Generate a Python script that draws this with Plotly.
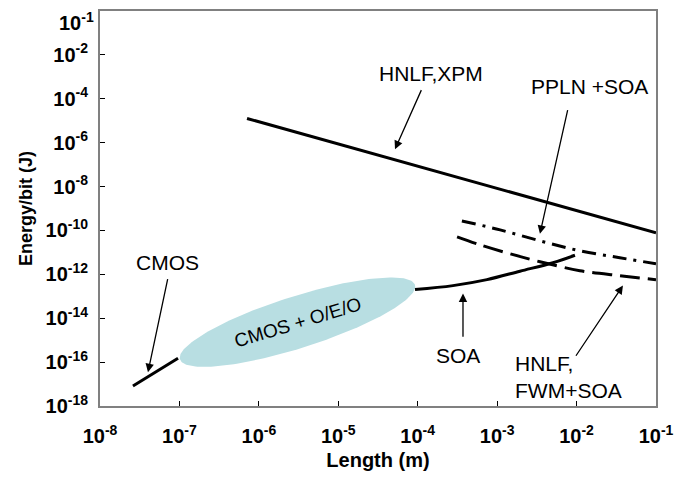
import numpy as np
import plotly.graph_objects as go

# ---------------- data ----------------
x_tickvals = [1e-8, 1e-7, 1e-6, 1e-5, 1e-4, 1e-3, 1e-2, 1e-1]
x_ticktext = ["10<sup>-8</sup>", "10<sup>-7</sup>", "10<sup>-6</sup>", "10<sup>-5</sup>",
              "10<sup>-4</sup>", "10<sup>-3</sup>", "10<sup>-2</sup>", "10<sup>-1</sup>"]
y_tickvals = [1e-18, 1e-16, 1e-14, 1e-12, 1e-10, 1e-8, 1e-6, 1e-4, 1e-2, 1e0]
y_ticktext = ["10<sup>-18</sup>", "10<sup>-16</sup>", "10<sup>-14</sup>", "10<sup>-12</sup>",
              "10<sup>-10</sup>", "10<sup>-8</sup>", "10<sup>-6</sup>", "10<sup>-4</sup>",
              "10<sup>-2</sup>", ""]
y_top_label = "10<sup>-1</sup>"

cmos_x = [2.6e-8, 9.6e-8]
cmos_y = [8.1e-18, 1.5e-16]

xpm_x = [7.1e-7, 1e-1]
xpm_y = [1.27e-5, 7.8e-11]

soa_x = [9.25e-5, 2.78e-4, 7.45e-4, 1.94e-3, 5.05e-3, 9.55e-3]
soa_y = [2.02e-13, 3.06e-13, 5.73e-13, 1.39e-12, 3.38e-12, 7.4e-12]

ppln_x = [3.6e-4, 1.09e-3, 3.46e-3, 1.1e-2, 3.5e-2, 1e-1]
ppln_y = [2.71e-10, 1.06e-10, 3.36e-11, 1.18e-11, 5.7e-12, 3.05e-12]

fwm_x = [3.13e-4, 6.08e-4, 1.45e-3, 3.46e-3, 1.1e-2, 3.5e-2, 1e-1]
fwm_y = [5.1e-11, 2.21e-11, 8.65e-12, 3.75e-12, 1.47e-12, 8.7e-13, 5.73e-13]

# ellipse "CMOS + O/E/O" in decades (log10 space)
oeo_center = (-5.514, -14.178)
oeo_major = (1.479, 1.700)
oeo_minor = (0.0995, -1.124)

FONT = "Liberation Sans, Arial, Helvetica, sans-serif"

fig = go.Figure()

t = np.linspace(0, 2 * np.pi, 200)
ex = oeo_center[0] + oeo_major[0] * np.cos(t) + oeo_minor[0] * np.sin(t)
ey = oeo_center[1] + oeo_major[1] * np.cos(t) + oeo_minor[1] * np.sin(t)
fig.add_trace(go.Scatter(x=10 ** ex, y=10 ** ey, mode="lines", fill="toself",
                         fillcolor="#b8dee2", line=dict(width=0, color="#b8dee2"),
                         hoverinfo="skip", showlegend=False))

line_style = dict(color="black", width=3)
fig.add_trace(go.Scatter(x=cmos_x, y=cmos_y, mode="lines", line=line_style, showlegend=False))
fig.add_trace(go.Scatter(x=xpm_x, y=xpm_y, mode="lines", line=line_style, showlegend=False))
fig.add_trace(go.Scatter(x=soa_x, y=soa_y, mode="lines", line=dict(color="black", width=3, shape="spline"),
                         showlegend=False))
fig.add_trace(go.Scatter(x=ppln_x, y=ppln_y, mode="lines",
                         line=dict(color="black", width=3, dash="14px,7px,3px,7px", shape="spline"),
                         showlegend=False))
fig.add_trace(go.Scatter(x=fwm_x, y=fwm_y, mode="lines",
                         line=dict(color="black", width=3, dash="20px,8px", shape="spline"),
                         showlegend=False))

# labels (positions in log10 units)
labels = [
    ("CMOS", -7.144, -11.471, "center"),
    ("HNLF,XPM", -3.833, -2.857, "center"),
    ("PPLN +SOA", -1.831, -3.446, "center"),
    ("SOA", -3.493, -15.688, "center"),
    ("HNLF,<br>FWM+SOA", -2.800, -16.685, "left"),
]
for txt, lx, ly, anc in labels:
    fig.add_annotation(x=lx, y=ly, text=txt, showarrow=False, xanchor=anc, align="left",
                       font=dict(family=FONT, size=21, color="black"))

arrows = [
    (-7.144, -12.151, -7.396, -16.458),
    (-3.946, -3.537, -4.286, -6.302),
    (-2.108, -4.444, -2.461, -10.156),
    (-3.430, -14.917, -3.430, -12.877),
    (-2.020, -15.778, -1.416, -12.514),
]
for tx, ty, hx, hy in arrows:
    fig.add_annotation(x=hx, y=hy, ax=tx, ay=ty, axref="x", ayref="y", xref="x", yref="y",
                       text="", showarrow=True, arrowhead=2, arrowsize=1.3, arrowwidth=1.3,
                       arrowcolor="black", standoff=0, startstandoff=0)

fig.add_annotation(x=oeo_center[0], y=oeo_center[1], text="CMOS + O/E/O", showarrow=False,
                   textangle=-17, font=dict(family=FONT, size=19, color="black"))

TICKFONT = dict(family=FONT, size=20, color="black", weight="bold")

# top y label placed inside the figure
fig.add_annotation(xref="paper", yref="paper", x=0, y=1, xanchor="right", yanchor="top",
                   xshift=-4, yshift=4, text=y_top_label, showarrow=False, font=TICKFONT)

axis_common = dict(type="log", showgrid=False, zeroline=False, showline=True, linecolor="#808080",
                   linewidth=2, mirror=True, ticks="inside", ticklen=5, tickwidth=1,
                   tickcolor="black", tickfont=TICKFONT, ticklabeloverflow="allow")

fig.update_xaxes(range=[-8, -1], tickvals=x_tickvals, ticktext=x_ticktext,
                 title=dict(text="<b>Length (m)</b>", font=dict(family=FONT, size=20, color="black"),
                            standoff=7),
                 ticklabelstandoff=11, **axis_common)
fig.update_yaxes(range=[-18, 0], tickvals=y_tickvals, ticktext=y_ticktext,
                 title=dict(text="<b>Energy/bit (J)</b>", font=dict(family=FONT, size=18, color="black"),
                            standoff=8),
                 ticklabelstandoff=6, **axis_common)

# page body has an 8px default margin; plot area lands at x 100-656, y 9-406 in the page
fig.update_layout(width=686, height=477, margin=dict(l=92, r=38, t=1, b=79),
                  plot_bgcolor="white", paper_bgcolor="white", showlegend=False)

fig.write_html("out.html")
